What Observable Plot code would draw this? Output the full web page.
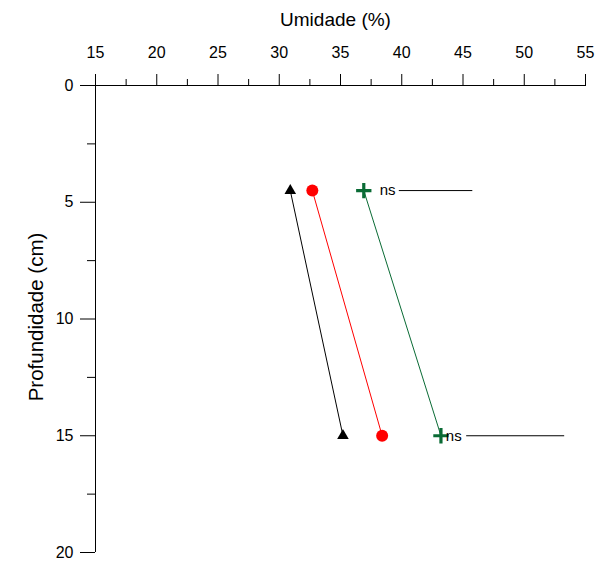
<!DOCTYPE html>
<html>
<head>
<meta charset="utf-8">
<script src="https://cdn.jsdelivr.net/npm/d3@7"></script>
<script src="https://cdn.jsdelivr.net/npm/@observablehq/plot@0.6"></script>
<style>
  html, body { margin: 0; padding: 0; background: #fff; }
  svg { display: block; }
</style>
</head>
<body>
<div id="chart"></div>
<script>
// Depths (cm)
const depths = [4.5, 15];
// Umidade (%) per treatment
const seriesBlack = [30.9, 35.2];
const seriesRed = [32.7, 38.4];
const seriesGreen = [36.9, 43.2];
// Significance annotations
const nsLabels = ["ns", "ns"];
const nsTextX = [38.2, 43.6];
const nsLineStart = [39.8, 45.3];
const nsLineEnd = [45.8, 53.3];
// Axis ticks
const xMajor = [15, 20, 25, 30, 35, 40, 45, 50, 55];
const xMinor = [17.5, 22.5, 27.5, 32.5, 37.5, 42.5, 47.5, 52.5];
const yMajor = [0, 5, 10, 15, 20];
const yMinor = [2.5, 7.5, 12.5, 17.5];

const mk = (vals, name) => vals.map((v, i) => ({x: v, y: depths[i], s: name}));
const black = mk(seriesBlack, "black");
const red = mk(seriesRed, "red");
const green = mk(seriesGreen, "green");
const ns = nsLabels.map((t, i) => ({t, y: depths[i], tx: nsTextX[i], x1: nsLineStart[i], x2: nsLineEnd[i]}));

const font = "'Liberation Sans', Arial, sans-serif";
const GREEN = "#0a6b35";
const noText = () => "";

const chart = Plot.plot({
  width: 610,
  height: 562,
  marginLeft: 95,
  marginRight: 25,
  marginTop: 85,
  marginBottom: 10,
  style: {fontFamily: font, fontSize: "16px", color: "#000", background: "#fff"},
  x: {domain: [15, 55]},
  y: {domain: [0, 20], reverse: true},
  marks: [
    Plot.axisX({anchor: "top", ticks: xMajor, tickSize: 12, tickFormat: noText, label: null, strokeOpacity: 1}),
    Plot.axisX({anchor: "top", ticks: xMinor, tickSize: 7, tickFormat: noText, label: null, strokeOpacity: 1}),
    Plot.axisY({anchor: "left", ticks: yMajor, tickSize: 15, tickFormat: noText, label: null, strokeOpacity: 1}),
    Plot.axisY({anchor: "left", ticks: yMinor, tickSize: 8, tickFormat: noText, label: null, strokeOpacity: 1}),
    Plot.text(xMajor, {x: d => d, text: d => String(d), frameAnchor: "top", dy: -33, lineAnchor: "middle", textAnchor: "middle", fontSize: 16, fill: "#000"}),
    Plot.text(yMajor, {y: d => d, text: d => String(d), frameAnchor: "left", dx: -22, lineAnchor: "middle", textAnchor: "end", fontSize: 16, fill: "#000"}),
    Plot.ruleY([0], {stroke: "#000"}),
    Plot.ruleX([15], {stroke: "#000"}),
    Plot.text(["Umidade (%)"], {frameAnchor: "top", dy: -66, dx: -5, fontSize: 19, fill: "#000", lineAnchor: "middle", textAnchor: "middle"}),
    Plot.text(["Profundidade (cm)"], {frameAnchor: "left", dx: -59, dy: -2, rotate: -90, fontSize: 20.5, fill: "#000", lineAnchor: "middle", textAnchor: "middle"}),
    Plot.line(black, {x: "x", y: "y", stroke: "#000", strokeWidth: 1}),
    Plot.line(red, {x: "x", y: "y", stroke: "#ff0000", strokeWidth: 1}),
    Plot.line(green, {x: "x", y: "y", stroke: GREEN, strokeWidth: 1}),
    Plot.dot(black, {x: "x", y: "y", symbol: "triangle", r: 4.3, fill: "#000", stroke: "none"}),
    Plot.dot(red, {x: "x", y: "y", symbol: "circle", r: 6, fill: "#ff0000", stroke: "none"}),
    Plot.dot(green, {x: "x", y: "y", symbol: "plus", r: 5, stroke: GREEN, strokeWidth: 3.2}),
    Plot.text(ns, {x: "tx", y: "y", text: "t", textAnchor: "start", fontSize: 15, fill: "#000"}),
    Plot.ruleY(ns, {y: "y", x1: "x1", x2: "x2", stroke: "#000", strokeWidth: 1})
  ]
});
document.getElementById("chart").appendChild(chart);
</script>
</body>
</html>
